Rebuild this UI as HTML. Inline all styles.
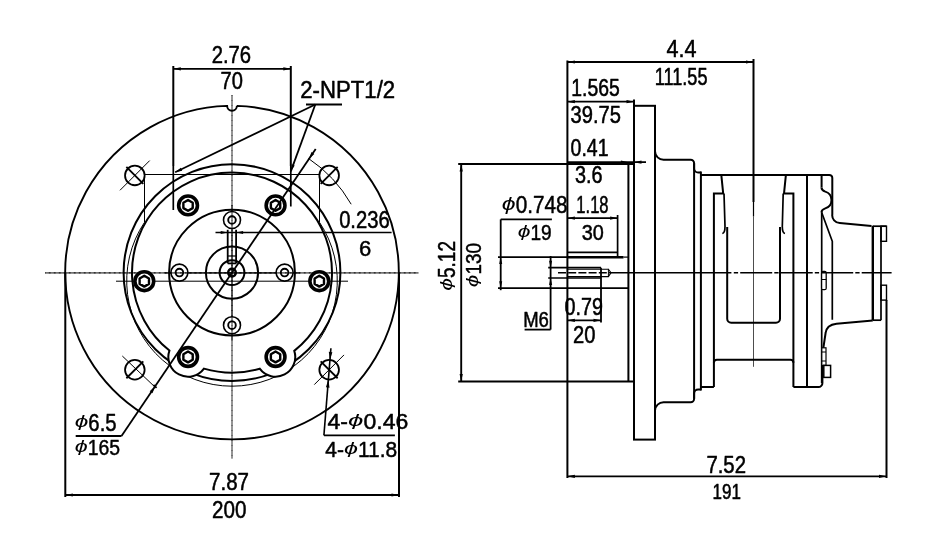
<!DOCTYPE html>
<html><head><meta charset="utf-8"><title>Motor dimensions</title>
<style>
html,body{margin:0;padding:0;background:#fff;}
svg{display:block;}
svg line,svg circle,svg path,svg rect{stroke:#000;}
svg text{font-family:"Liberation Sans",sans-serif;fill:#000;stroke:#000;stroke-width:0.5px;vector-effect:non-scaling-stroke;stroke-linejoin:round;}
</style></head><body>
<svg width="944" height="558" viewBox="0 0 944 558" fill="none" style="filter:grayscale(1)">
<rect x="0" y="0" width="944" height="558" fill="#fff" style="stroke:none"/>
<path d="M236.9 105.87 A166.8 166.8 0 1 1 227.1 105.87 A4.9 4.9 0 0 0 236.9 105.87" stroke-width="1.9" fill="none" />
<circle cx="232" cy="272.6" r="108.4" stroke-width="2.0" fill="none" />
<path d="M144.5 174.5 L144.5 222.32 A105.3 105.3 0 1 0 319.5 222.32 L319.5 174.5" stroke-width="1.0" fill="none" />
<path d="M169.41 350.59 A100.0 100.0 0 1 1 294.27 350.85 A19.7 19.7 0 0 1 259.71 368.69 A100.0 100.0 0 0 1 203.96 368.59 A19.7 19.7 0 0 1 169.41 350.59 Z" stroke-width="2.0" fill="#fff" />
<line x1="144.5" y1="174.5" x2="319.5" y2="174.5" stroke-width="1.0" />
<circle cx="232" cy="272.6" r="62.9" stroke-width="2.0" fill="none" />
<circle cx="232" cy="272.6" r="26.1" stroke-width="2.0" fill="none" />
<circle cx="232" cy="272.6" r="12.4" stroke-width="2.0" fill="none" />
<circle cx="232" cy="272.6" r="3.8" stroke-width="2.5" fill="none" />
<line x1="232" y1="95" x2="232" y2="458.7" stroke-width="1.1" stroke-dasharray="0.9 0.35"/>
<line x1="45.3" y1="272.85" x2="418.3" y2="272.85" stroke-width="1.7" stroke-dasharray="0.8 0.45"/>
<line x1="116" y1="281.2" x2="348" y2="281.2" stroke-width="1.0" />
<circle cx="319.3" cy="281.2" r="9.4" stroke-width="3.6" fill="#fff" />
<path d="M323.98 283.9 L319.3 286.6 L314.62 283.9 L314.62 278.5 L319.3 275.8 L323.98 278.5 Z" stroke-width="2.4" fill="none" stroke-linejoin="round"/>
<circle cx="275.55" cy="356.98" r="9.4" stroke-width="3.6" fill="#fff" />
<path d="M280.23 359.68 L275.55 362.38 L270.87 359.68 L270.87 354.28 L275.55 351.58 L280.23 354.28 Z" stroke-width="2.4" fill="none" stroke-linejoin="round"/>
<circle cx="188.05" cy="356.98" r="9.4" stroke-width="3.6" fill="#fff" />
<path d="M192.73 359.68 L188.05 362.38 L183.37 359.68 L183.37 354.28 L188.05 351.58 L192.73 354.28 Z" stroke-width="2.4" fill="none" stroke-linejoin="round"/>
<circle cx="144.3" cy="281.2" r="9.4" stroke-width="3.6" fill="#fff" />
<path d="M148.98 283.9 L144.3 286.6 L139.62 283.9 L139.62 278.5 L144.3 275.8 L148.98 278.5 Z" stroke-width="2.4" fill="none" stroke-linejoin="round"/>
<circle cx="188.05" cy="205.42" r="9.4" stroke-width="3.6" fill="#fff" />
<path d="M192.73 208.12 L188.05 210.82 L183.37 208.12 L183.37 202.72 L188.05 200.02 L192.73 202.72 Z" stroke-width="2.4" fill="none" stroke-linejoin="round"/>
<circle cx="275.55" cy="205.42" r="9.4" stroke-width="3.6" fill="#fff" />
<path d="M280.23 208.12 L275.55 210.82 L270.87 208.12 L270.87 202.72 L275.55 200.02 L280.23 202.72 Z" stroke-width="2.4" fill="none" stroke-linejoin="round"/>
<circle cx="284.6" cy="272.6" r="8.5" stroke-width="1.6" fill="#fff" />
<circle cx="284.6" cy="272.6" r="3.8" stroke-width="1.9" fill="none" />
<circle cx="232" cy="325.2" r="8.5" stroke-width="1.6" fill="#fff" />
<circle cx="232" cy="325.2" r="3.8" stroke-width="1.9" fill="none" />
<circle cx="179.4" cy="272.6" r="8.5" stroke-width="1.6" fill="#fff" />
<circle cx="179.4" cy="272.6" r="3.8" stroke-width="1.9" fill="none" />
<circle cx="232" cy="220" r="8.5" stroke-width="1.6" fill="#fff" />
<circle cx="232" cy="220" r="3.8" stroke-width="1.9" fill="none" />
<line x1="232" y1="205" x2="232" y2="340" stroke-width="1.1" stroke-dasharray="0.9 0.35"/>
<line x1="165" y1="272.85" x2="300" y2="272.85" stroke-width="1.7" stroke-dasharray="0.8 0.45"/>
<line x1="227.7" y1="229.8" x2="227.7" y2="263.4" stroke-width="1.8" />
<line x1="236.1" y1="229.8" x2="236.1" y2="263.4" stroke-width="1.8" />
<line x1="227.7" y1="256" x2="236.1" y2="256" stroke-width="1.2" />
<line x1="227.7" y1="263.4" x2="236.1" y2="263.4" stroke-width="1.8" />
<line x1="215.5" y1="232.5" x2="391.6" y2="232.5" stroke-width="1.7" />
<polygon points="227.7,232.5 220.7,234 220.7,231" fill="#000" stroke="none"/>
<polygon points="236.1,232.5 243.1,231 243.1,234" fill="#000" stroke="none"/>
<circle cx="134.84" cy="175.44" r="9.8" stroke-width="1.8" fill="none" />
<line x1="143.33" y1="183.93" x2="126.36" y2="166.96" stroke-width="1.8" />
<line x1="119.99" y1="190.29" x2="149.69" y2="160.59" stroke-width="1.0" />
<circle cx="329.16" cy="175.44" r="9.8" stroke-width="1.8" fill="none" />
<line x1="320.67" y1="183.93" x2="337.64" y2="166.96" stroke-width="1.8" />
<path d="M308.38 158.38 A137.4 137.4 0 0 1 351.19 204.24" stroke-width="1.0" fill="none" />
<circle cx="134.84" cy="369.76" r="9.8" stroke-width="1.8" fill="none" />
<line x1="143.33" y1="361.27" x2="126.36" y2="378.24" stroke-width="1.8" />
<line x1="122.3" y1="356" x2="154.6" y2="386.7" stroke-width="1.0" />
<circle cx="329.16" cy="369.76" r="9.8" stroke-width="1.8" fill="none" />
<line x1="320.67" y1="361.27" x2="337.64" y2="378.24" stroke-width="1.8" />
<line x1="344.01" y1="354.91" x2="314.31" y2="384.61" stroke-width="1.0" />
<line x1="315.7" y1="148.9" x2="121.5" y2="436" stroke-width="1.8" />
<line x1="75.7" y1="436" x2="121.5" y2="436" stroke-width="1.8" />
<polygon points="309,158.8 311.51,152.05 314.33,153.96" fill="#000" stroke="none"/>
<polygon points="155,386.4 152.49,393.15 149.67,391.24" fill="#000" stroke="none"/>
<line x1="153.42" y1="384.88" x2="156.58" y2="387.92" stroke-width="1.8" />
<line x1="173.3" y1="66" x2="173.3" y2="166" stroke-width="2.0" />
<line x1="290.8" y1="66" x2="290.8" y2="166" stroke-width="2.0" />
<line x1="173.3" y1="166" x2="173.3" y2="210" stroke-width="1.7" />
<line x1="290.8" y1="166" x2="290.8" y2="206.5" stroke-width="1.7" />
<line x1="173.3" y1="68.8" x2="290.8" y2="68.8" stroke-width="1.8" />
<polygon points="173.3,68.8 180.8,67.2 180.8,70.4" fill="#000" stroke="none"/>
<polygon points="290.8,68.8 283.3,70.4 283.3,67.2" fill="#000" stroke="none"/>
<line x1="306" y1="104.5" x2="342" y2="104.5" stroke-width="1.8" />
<line x1="315.3" y1="104.5" x2="175.2" y2="172.3" stroke-width="1.8" />
<line x1="315.3" y1="104.5" x2="290.8" y2="171.4" stroke-width="1.8" />
<polygon points="175.2,172.3 180.8,167.81 182.2,170.69" fill="#000" stroke="none"/>
<polygon points="290.8,171.4 291.7,164.28 294.71,165.38" fill="#000" stroke="none"/>
<line x1="65.3" y1="272.6" x2="65.3" y2="497" stroke-width="2.0" />
<line x1="399" y1="272.6" x2="399" y2="497" stroke-width="2.0" />
<line x1="65.3" y1="495" x2="399" y2="495" stroke-width="1.8" />
<polygon points="65.3,495 72.8,493.4 72.8,496.6" fill="#000" stroke="none"/>
<polygon points="399,495 391.5,496.6 391.5,493.4" fill="#000" stroke="none"/>
<line x1="330.9" y1="348.3" x2="323.9" y2="435.4" stroke-width="1.6" />
<line x1="323.9" y1="435.4" x2="394.9" y2="435.4" stroke-width="1.8" />
<polygon points="329.94,359.99 328.79,351.87 332.38,352.16" fill="#000" stroke="none"/>
<polygon points="328.37,379.52 329.52,387.64 325.94,387.36" fill="#000" stroke="none"/>
<text font-size="24" transform="translate(211.69 63.1) scale(0.8449 1.0118)">2.76</text>
<text font-size="24" transform="translate(220.5 89.3) scale(0.8374 0.9824)">70</text>
<text font-size="24" transform="translate(300.29 98.11) scale(0.9242 0.9659)">2-NPT1/2</text>
<text font-size="24" transform="translate(339.14 227.5) scale(0.8417 0.9941)">0.236</text>
<text font-size="24" transform="translate(358.9 255.51) scale(0.9189 0.9471)">6</text>
<text font-size="24" transform="translate(74.74 430.81) scale(0.8484 0.9591)"><tspan font-style="italic" font-size="18.1" dy="-3.5" textLength="16" lengthAdjust="spacingAndGlyphs" stroke="none" style="stroke:none">ϕ</tspan><tspan dy="3.5">6.5</tspan></text>
<text font-size="24" transform="translate(74.77 455.22) scale(0.8096 0.9298)"><tspan font-style="italic" font-size="18.1" dy="-3.5" textLength="16" lengthAdjust="spacingAndGlyphs" stroke="none" style="stroke:none">ϕ</tspan><tspan dy="3.5">165</tspan></text>
<text font-size="24" transform="translate(327.52 429.41) scale(0.9612 0.9532)">4-<tspan font-style="italic" font-size="18.1" dy="-3.5" textLength="16" lengthAdjust="spacingAndGlyphs" stroke="none" style="stroke:none">ϕ</tspan><tspan dy="3.5">0.46</tspan></text>
<text font-size="24" transform="translate(325.28 456.92) scale(0.8734 0.9474)">4-<tspan font-style="italic" font-size="18.1" dy="-3.5" textLength="16" lengthAdjust="spacingAndGlyphs" stroke="none" style="stroke:none">ϕ</tspan><tspan dy="3.5">11.8</tspan></text>
<text font-size="24" transform="translate(209.07 489.51) scale(0.8555 0.9588)">7.87</text>
<text font-size="24" transform="translate(211.97 518.01) scale(0.8602 0.9588)">200</text>
<line x1="567.4" y1="60.5" x2="567.4" y2="478" stroke-width="2.0" />
<line x1="567.4" y1="252.3" x2="617.6" y2="252.3" stroke-width="1.7" />
<line x1="617.6" y1="215" x2="617.6" y2="257.5" stroke-width="1.7" />
<line x1="498" y1="257.1" x2="567.4" y2="257.1" stroke-width="1.7" />
<line x1="567.4" y1="257.3" x2="623.5" y2="257.3" stroke-width="2.6" />
<line x1="623.5" y1="257.1" x2="628.4" y2="257.1" stroke-width="1.2" />
<line x1="498" y1="288.2" x2="628.4" y2="288.2" stroke-width="1.8" />
<line x1="548.2" y1="267.7" x2="601" y2="267.7" stroke-width="1.7" />
<line x1="548.2" y1="278" x2="601" y2="278" stroke-width="1.7" />
<path d="M567.4 269.2 L608.4 269.2 L611 272.7 L608.4 276.6 L567.4 276.6" stroke-width="1.1" fill="none" />
<line x1="608.4" y1="268.9" x2="608.4" y2="276.9" stroke-width="1.0" />
<line x1="601" y1="267.7" x2="601" y2="322.4" stroke-width="1.8" />
<line x1="628.4" y1="164" x2="628.4" y2="381.5" stroke-width="2.0" />
<line x1="458.2" y1="164" x2="634.3" y2="164" stroke-width="1.8" />
<line x1="458.2" y1="381.5" x2="634.3" y2="381.5" stroke-width="1.8" />
<line x1="634" y1="99.5" x2="634" y2="439.6" stroke-width="2.0" />
<line x1="655" y1="105.8" x2="655" y2="439.6" stroke-width="2.0" />
<line x1="633" y1="105.8" x2="656" y2="105.8" stroke-width="2.0" />
<line x1="633" y1="439.6" x2="656" y2="439.6" stroke-width="2.0" />
<path d="M655 151.2 A8.6 8.6 0 0 0 663.9 159.8 L690.6 159.8 A3.5 3.5 0 0 1 694.1 163.3 L694.1 168.5 A4.1 4.1 0 0 0 698.2 172.6 L700.9 172.6" stroke-width="2.0" fill="none" />
<path d="M655 410.8 A8.6 8.6 0 0 1 663.9 402.2 L690.6 402.2 A3.5 3.5 0 0 0 694.1 398.7 L694.1 393.5 A4.1 4.1 0 0 1 698.2 389.4 L700.9 389.4" stroke-width="2.0" fill="none" />
<line x1="694.1" y1="163.3" x2="694.1" y2="398.7" stroke-width="2.0" />
<line x1="700.9" y1="171.5" x2="700.9" y2="390.5" stroke-width="2.0" />
<path d="M700.9 174.9 L829.3 174.9 A3 3 0 0 1 832.3 177.9 L832.3 214.4 A7.5 7.5 0 0 0 839.8 222.9 L871.5 225.9" stroke-width="2.0" fill="none" />
<path d="M721.3 174.9 L723.2 193.6 L713.9 193.6 L713.9 387.1" stroke-width="2.0" fill="none" />
<path d="M785.9 174.9 L784 193.6 L793.4 193.6 L793.4 387.1" stroke-width="2.0" fill="none" />
<path d="M724 193.6 L725 226.5 Q725 233 722.3 233.5" stroke-width="1.7" fill="none" />
<path d="M783.2 193.6 L782.3 226.5 Q782.3 233 785 233.5" stroke-width="1.7" fill="none" />
<path d="M727.2 227 L727.2 318.7 A4 4 0 0 0 731.2 322.7 L776 322.7 A4 4 0 0 0 780 318.7 L780 227" stroke-width="2.0" fill="none" />
<line x1="753.5" y1="59" x2="753.5" y2="202" stroke-width="2.0" />
<line x1="753.5" y1="202" x2="753.5" y2="216.5" stroke-width="1.2" />
<line x1="753.5" y1="216.5" x2="753.5" y2="366.8" stroke-width="0.7" />
<line x1="807" y1="174.9" x2="807" y2="387.1" stroke-width="2.0" />
<line x1="821.6" y1="174.9" x2="821.6" y2="187.5" stroke-width="2.0" />
<path d="M821.5 187.5 Q821.5 190.3 825.3 191.6 A8.8 8.8 0 0 1 825.3 208.4 Q821.5 209.7 821.5 212.3" stroke-width="2.0" fill="none" />
<line x1="821.7" y1="212.3" x2="821.7" y2="383" stroke-width="1.7" />
<path d="M821.6 212.3 L832.3 241.3 L832.3 319.7" stroke-width="1.7" fill="none" />
<rect x="821.6" y="271.4" width="4.6" height="18.3" rx="1.5" stroke-width="1.3" fill="#fff"/>
<line x1="821.6" y1="279.5" x2="826.2" y2="279.5" stroke-width="1.0" />
<line x1="872.8" y1="225.8" x2="872.8" y2="320.2" stroke-width="2.4" />
<line x1="881" y1="226.2" x2="881" y2="320.2" stroke-width="1.7" />
<line x1="872.8" y1="226.2" x2="886.5" y2="226.2" stroke-width="1.7" />
<line x1="872.8" y1="320.2" x2="881" y2="320.2" stroke-width="1.7" />
<rect x="881" y="226.2" width="5.5" height="15.1" stroke-width="1.4" fill="none"/>
<rect x="881" y="285.2" width="5.5" height="14.9" stroke-width="1.4" fill="none"/>
<line x1="886.5" y1="300" x2="886.5" y2="478" stroke-width="2.0" />
<path d="M872.8 320.5 L836.5 323.7 Q826.6 324.8 825.6 333 L823.4 347.5 L822.4 365.5 L822.4 383 A4 4 0 0 1 818.4 387.1 L793.4 387.1" stroke-width="2.0" fill="none" />
<rect x="821.8" y="347.8" width="4.2" height="17.6" stroke-width="1.2" fill="#fff"/>
<rect x="823.8" y="365.4" width="6.8" height="12" stroke-width="1.5" fill="#fff"/>
<line x1="821.8" y1="352" x2="826" y2="352" stroke-width="1.0" />
<line x1="821.8" y1="361" x2="826" y2="361" stroke-width="1.0" />
<path d="M700.9 387.1 L713.9 387.1 M713.9 362.8 A3 3 0 0 1 716.9 359.8 L790.4 359.8 A3 3 0 0 1 793.4 362.8" stroke-width="2.0" fill="none" />
<line x1="558" y1="272.7" x2="613" y2="272.7" stroke-width="1.6" stroke-dasharray="8 2.2"/>
<line x1="613" y1="272.7" x2="731.4" y2="272.7" stroke-width="1.6" />
<line x1="733.8" y1="272.7" x2="891.6" y2="272.7" stroke-width="1.6" stroke-dasharray="4.3 2.1 32 2.1"/>
<line x1="567.4" y1="62" x2="753.5" y2="62" stroke-width="1.8" />
<polygon points="567.4,62 574.9,60.4 574.9,63.6" fill="#000" stroke="none"/>
<polygon points="753.5,62 746,63.6 746,60.4" fill="#000" stroke="none"/>
<line x1="567.4" y1="101.7" x2="634" y2="101.7" stroke-width="1.8" />
<polygon points="567.4,101.7 574.9,100.1 574.9,103.3" fill="#000" stroke="none"/>
<polygon points="634,101.7 626.5,103.3 626.5,100.1" fill="#000" stroke="none"/>
<line x1="567.4" y1="162.2" x2="646" y2="162.2" stroke-width="1.8" />
<polygon points="628.4,162.2 620.9,163.8 620.9,160.6" fill="#000" stroke="none"/>
<polygon points="634,162.2 641.5,160.6 641.5,163.8" fill="#000" stroke="none"/>
<line x1="567.4" y1="218.1" x2="617.6" y2="218.1" stroke-width="1.8" />
<polygon points="567.4,218.1 574.9,216.5 574.9,219.7" fill="#000" stroke="none"/>
<polygon points="617.6,218.1 610.1,219.7 610.1,216.5" fill="#000" stroke="none"/>
<line x1="500.7" y1="219.4" x2="551.9" y2="219.4" stroke-width="1.8" />
<line x1="500.7" y1="219.4" x2="500.7" y2="290.2" stroke-width="1.8" />
<polygon points="500.7,257.1 502.2,264.1 499.2,264.1" fill="#000" stroke="none"/>
<polygon points="500.7,288.2 499.2,281.2 502.2,281.2" fill="#000" stroke="none"/>
<line x1="461.2" y1="164" x2="461.2" y2="381.5" stroke-width="1.9" />
<polygon points="461.2,164 462.8,171.5 459.6,171.5" fill="#000" stroke="none"/>
<polygon points="461.2,381.5 459.6,374 462.8,374" fill="#000" stroke="none"/>
<line x1="550.6" y1="256" x2="550.6" y2="329.6" stroke-width="1.8" />
<line x1="524.6" y1="329.6" x2="550.6" y2="329.6" stroke-width="1.8" />
<polygon points="550.6,267.7 549.1,260.7 552.1,260.7" fill="#000" stroke="none"/>
<polygon points="550.6,278 552.1,285 549.1,285" fill="#000" stroke="none"/>
<line x1="567.4" y1="320.3" x2="601" y2="320.3" stroke-width="1.8" />
<polygon points="567.4,320.3 574.9,318.7 574.9,321.9" fill="#000" stroke="none"/>
<polygon points="601,320.3 593.5,321.9 593.5,318.7" fill="#000" stroke="none"/>
<line x1="567.4" y1="476.3" x2="886.5" y2="476.3" stroke-width="1.8" />
<polygon points="567.4,476.3 574.9,474.7 574.9,477.9" fill="#000" stroke="none"/>
<polygon points="886.5,476.3 879,477.9 879,474.7" fill="#000" stroke="none"/>
<text font-size="24" transform="translate(666.56 56.8) scale(0.9003 1.0122)">4.4</text>
<text font-size="24" transform="translate(654.74 85.1) scale(0.7552 0.9760)">111.55</text>
<text font-size="24" transform="translate(571.25 95.91) scale(0.8077 0.9647)">1.565</text>
<text font-size="24" transform="translate(570.55 122.5) scale(0.8382 0.9824)">39.75</text>
<text font-size="24" transform="translate(570.57 156.41) scale(0.8121 0.9588)">0.41</text>
<text font-size="24" transform="translate(574.95 182.8) scale(0.8280 0.9941)">3.6</text>
<text font-size="24" transform="translate(501.82 213.11) scale(0.8637 0.9649)"><tspan font-style="italic" font-size="18.1" dy="-3.5" textLength="16" lengthAdjust="spacingAndGlyphs" stroke="none" style="stroke:none">ϕ</tspan><tspan dy="3.5">0.748</tspan></text>
<text font-size="24" transform="translate(576.36 213) scale(0.6902 0.9824)">1.18</text>
<text font-size="24" transform="translate(517.68 240.02) scale(0.7961 0.9415)"><tspan font-style="italic" font-size="18.1" dy="-3.5" textLength="16" lengthAdjust="spacingAndGlyphs" stroke="none" style="stroke:none">ϕ</tspan><tspan dy="3.5">19</tspan></text>
<text font-size="24" transform="translate(581.76 239.61) scale(0.8273 0.9471)">30</text>
<text font-size="24" transform="translate(523.16 326.91) scale(0.7723 0.9471)">M6</text>
<text font-size="24" transform="translate(564.56 315.1) scale(0.8233 0.9824)">0.79</text>
<text font-size="24" transform="translate(573.09 342.71) scale(0.8415 0.9588)">20</text>
<text font-size="24" transform="translate(706.38 473.4) scale(0.8488 0.9941)">7.52</text>
<text font-size="24" transform="translate(712.62 498.82) scale(0.7089 0.9235)">191</text>
<text font-size="24" transform="translate(455.41 290.71) rotate(-90) scale(0.7937 0.9588)"><tspan font-style="italic" font-size="18.1" dy="-3.5" textLength="16" lengthAdjust="spacingAndGlyphs" stroke="none" style="stroke:none">ϕ</tspan><tspan dy="3.5">5.12</tspan></text>
<text font-size="24" transform="translate(481.11 287.21) rotate(-90) scale(0.7878 0.9532)"><tspan font-style="italic" font-size="18.1" dy="-3.5" textLength="16" lengthAdjust="spacingAndGlyphs" stroke="none" style="stroke:none">ϕ</tspan><tspan dy="3.5">130</tspan></text>
</svg>
</body></html>
